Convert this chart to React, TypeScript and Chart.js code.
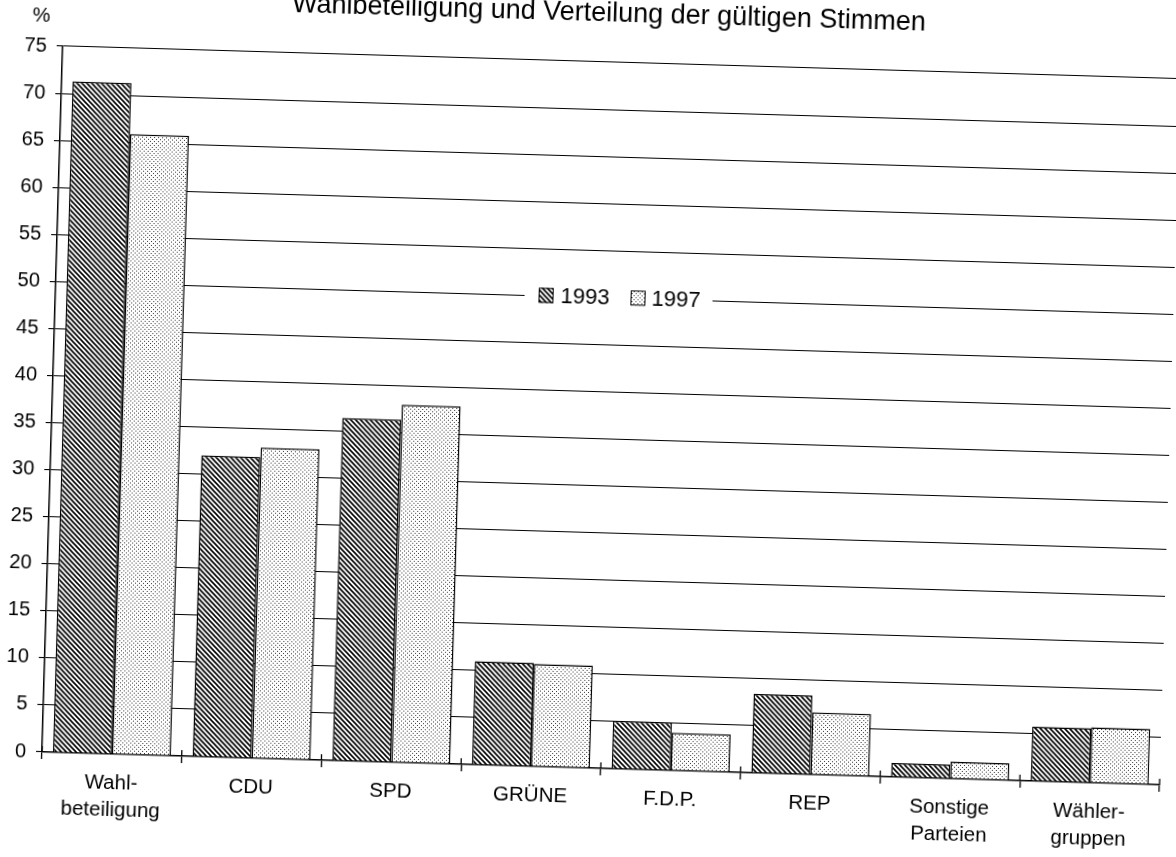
import React, { useEffect, useRef } from "react";
import { Chart, registerables } from "chart.js";

Chart.register(...registerables);

const TITLE = "Wahlbeteiligung und Verteilung der gültigen Stimmen";
const UNIT = "%";
const categories: (string | string[])[] = [
  ["Wahl-", "beteiligung"],
  "CDU",
  "SPD",
  "GRÜNE",
  "F.D.P.",
  "REP",
  ["Sonstige", "Parteien"],
  ["Wähler-", "gruppen"],
];
const seriesNames = ["1993", "1997"];
const values1993 = [71.3, 32.0, 36.4, 11.0, 5.1, 8.4, 1.5, 5.8];
const values1997 = [65.9, 33.0, 38.0, 10.9, 4.0, 6.6, 1.8, 5.9];
const Y_MIN = 0;
const Y_MAX = 75;
const Y_STEP = 5;
const LEGEND_AT = 50;

const FONT = "'Liberation Sans', Arial, Helvetica, sans-serif";
const ROT = 1.68;
const L = -30;
const T = -40;
const W = 1230;
const H = 900;
const ORIGIN_X = 42;
const ORIGIN_Y = 752;

function hatchPattern(): CanvasPattern | string {
  const c = document.createElement("canvas");
  const s = 5;
  c.width = s;
  c.height = s;
  const g = c.getContext("2d");
  if (!g) return "#777";
  g.fillStyle = "#fff";
  g.fillRect(0, 0, s, s);
  g.strokeStyle = "#000";
  g.lineWidth = 1.6;
  g.beginPath();
  for (const o of [-s, 0, s]) {
    g.moveTo(o - 1, -1);
    g.lineTo(o + s + 1, s + 1);
  }
  g.stroke();
  return g.createPattern(c, "repeat") || "#777";
}

function dotPattern(): CanvasPattern | string {
  const c = document.createElement("canvas");
  const s = 4;
  c.width = s;
  c.height = s;
  const g = c.getContext("2d");
  if (!g) return "#ddd";
  g.fillStyle = "#fff";
  g.fillRect(0, 0, s, s);
  g.fillStyle = "#333";
  g.fillRect(0, 0, 1, 1);
  g.fillRect(2, 2, 1, 1);
  return g.createPattern(c, "repeat") || "#ddd";
}

export default function App() {
  const ref = useRef<HTMLCanvasElement | null>(null);

  useEffect(() => {
    const canvas = ref.current;
    if (!canvas) return;
    const fills = [hatchPattern(), dotPattern()];

    const extras = {
      id: "extras",
      afterDraw(chart: any) {
        const { ctx, chartArea, scales } = chart;
        const ca = chartArea;
        const yS = scales.y;
        const xS = scales.x;
        ctx.save();
        // inner half of x tick marks
        ctx.strokeStyle = "#000";
        ctx.lineWidth = 1.3;
        const n = categories.length;
        for (let i = 0; i <= n; i++) {
          const px = xS.left + (i * (xS.right - xS.left)) / n;
          ctx.beginPath();
          ctx.moveTo(px, ca.bottom - 6);
          ctx.lineTo(px, ca.bottom);
          ctx.stroke();
        }
        // title
        ctx.fillStyle = "#000";
        ctx.textAlign = "center";
        ctx.textBaseline = "middle";
        ctx.font = `27px ${FONT}`;
        ctx.fillText(TITLE, (ca.left + ca.right) / 2 - 14, ca.top - 48);
        // unit
        ctx.font = `20px ${FONT}`;
        ctx.fillText(UNIT, ca.left - 22, ca.top - 30);
        // legend
        const cy = yS.getPixelForValue(LEGEND_AT);
        const gx = (ca.left + ca.right) / 2 + 4 - 94;
        ctx.fillStyle = "#fff";
        ctx.fillRect(gx, cy - 15, 188, 30);
        const boxes = [14, 106];
        const texts = [36, 127];
        ctx.font = `22px ${FONT}`;
        ctx.textAlign = "left";
        for (let i = 0; i < seriesNames.length; i++) {
          ctx.fillStyle = fills[i] as any;
          ctx.fillRect(gx + boxes[i], cy - 8, 15, 15);
          ctx.strokeStyle = "#000";
          ctx.lineWidth = 1;
          ctx.strokeRect(gx + boxes[i] + 0.5, cy - 7.5, 14, 14);
          ctx.fillStyle = "#000";
          ctx.fillText(seriesNames[i], gx + texts[i], cy + 1);
        }
        ctx.restore();
      },
    };

    const chart = new Chart(canvas, {
      type: "bar",
      data: {
        labels: categories,
        datasets: [
          {
            label: seriesNames[0],
            data: values1993,
            backgroundColor: fills[0] as any,
            borderColor: "#000",
            borderWidth: 1.5,
            categoryPercentage: 0.845,
            barPercentage: 1.0,
          },
          {
            label: seriesNames[1],
            data: values1997,
            backgroundColor: fills[1] as any,
            borderColor: "#000",
            borderWidth: 1.5,
            categoryPercentage: 0.845,
            barPercentage: 1.0,
          },
        ],
      },
      options: {
        animation: false,
        responsive: false,
        devicePixelRatio: 1,
        layout: { padding: { top: 86, right: 40, bottom: 0, left: 0 } },
        plugins: {
          legend: { display: false },
          title: { display: false },
          tooltip: { enabled: false },
        },
        scales: {
          x: {
            offset: true,
            grid: {
              offset: true,
              drawOnChartArea: false,
              drawTicks: true,
              tickLength: 7,
              color: "#000",
              lineWidth: 1.3,
            },
            border: { display: true, color: "#000", width: 1.5 },
            ticks: {
              color: "#000",
              padding: 9,
              maxRotation: 0,
              autoSkip: false,
              font: { family: FONT, size: 20.5, lineHeight: 1.32 },
            },
            afterFit: (scale: any) => {
              scale.height = H - 792;
            },
          },
          y: {
            min: Y_MIN,
            max: Y_MAX,
            grid: {
              color: "#000",
              lineWidth: 1.1,
              drawTicks: true,
              tickLength: 6,
            },
            border: { display: true, color: "#000", width: 1.5 },
            ticks: {
              stepSize: Y_STEP,
              color: "#000",
              padding: 10,
              font: { family: FONT, size: 20 },
            },
            afterFit: (scale: any) => {
              scale.width = ORIGIN_X - L;
            },
          },
        },
      },
      plugins: [extras],
    });
    return () => chart.destroy();
  }, []);

  return (
    <div
      style={{
        position: "fixed",
        left: 0,
        top: 0,
        width: 1176,
        height: 857,
        overflow: "hidden",
        background: "#fff",
      }}
    >
      <div
        style={{
          position: "absolute",
          left: L,
          top: T,
          width: W,
          height: H,
          transform: `rotate(${ROT}deg)`,
          transformOrigin: `${ORIGIN_X - L}px ${ORIGIN_Y - T}px`,
        }}
      >
        <canvas ref={ref} width={W} height={H} style={{ display: "block", width: W, height: H }} />
      </div>
    </div>
  );
}
